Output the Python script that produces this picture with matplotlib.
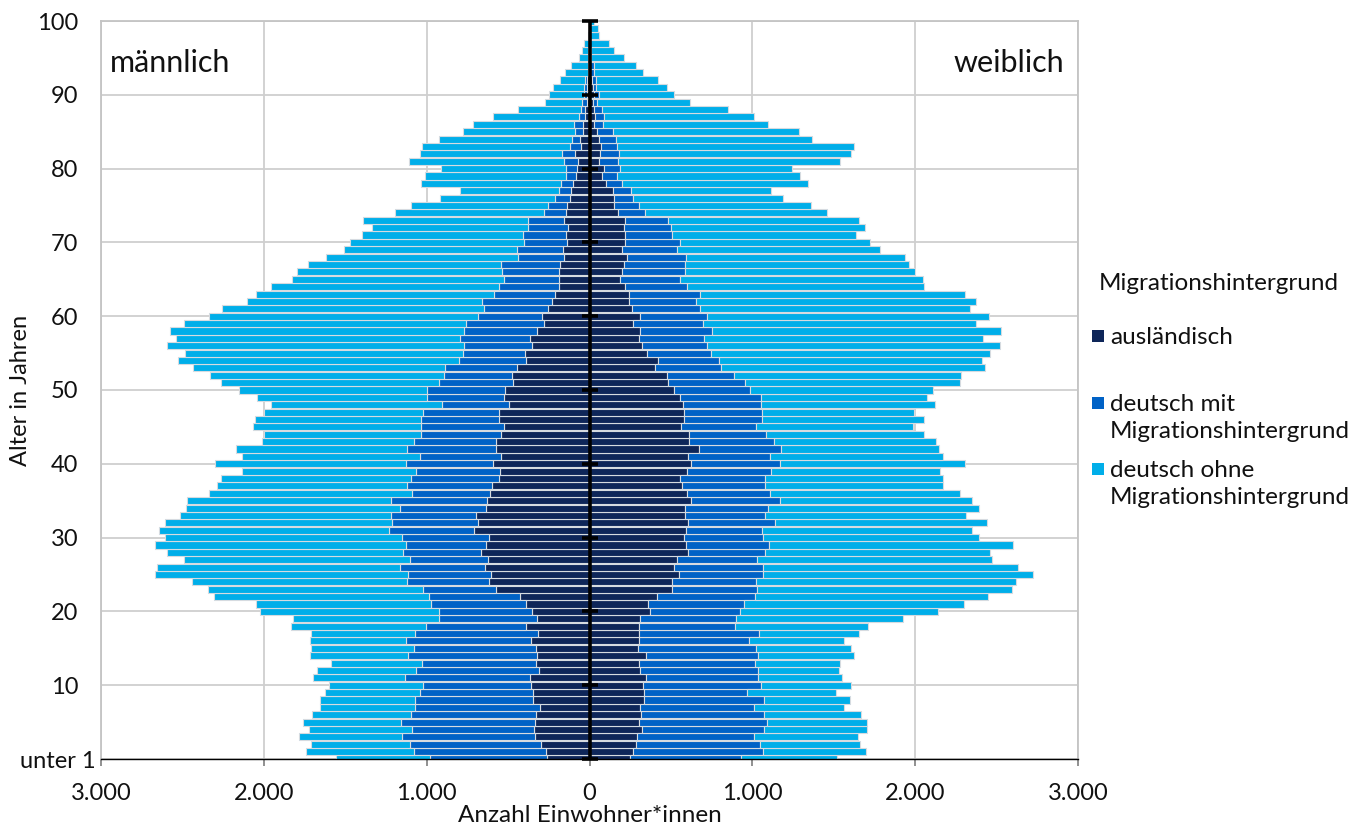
import numpy as np
import matplotlib
matplotlib.use("Agg")
import matplotlib.pyplot as plt
from matplotlib.patches import Rectangle
from matplotlib.ticker import FuncFormatter, FixedLocator
from matplotlib.transforms import ScaledTranslation

plt.rcParams['font.family'] = ['Lato', 'DejaVu Sans']

ages = list(range(0, 101))

# Männlich (ages 0..100)
m_auslaendisch = [264, 268, 299, 335, 342, 335, 329, 307, 348, 344,
                  362, 368, 311, 327, 323, 327, 360, 317, 389, 325,
                  352, 393, 427, 575, 618, 605, 644, 626, 667, 636,
                  618, 708, 683, 695, 636, 628, 611, 601, 556, 552,
                  595, 546, 575, 575, 546, 528, 556, 554, 493, 526,
                  519, 472, 476, 444, 389, 395, 354, 366, 323, 280,
                  292, 256, 229, 209, 188, 186, 188, 180, 157, 162,
                  137, 145, 131, 157, 143, 137, 119, 112, 102, 84,
                  78, 72, 88, 51, 59, 37, 37, 29, 25, 18,
                  16, 18, 18, 6, 4, 4, 3, 3, 2, 2, 2]
m_deutsch_mit = [714, 812, 805, 818, 748, 822, 767, 765, 722, 699,
                 660, 767, 754, 702, 792, 753, 769, 755, 617, 600,
                 573, 581, 561, 450, 503, 512, 520, 476, 478, 493,
                 531, 523, 530, 522, 530, 591, 481, 520, 540, 513,
                 530, 497, 544, 503, 491, 505, 479, 468, 415, 470,
                 479, 452, 418, 446, 415, 382, 419, 429, 448, 479,
                 395, 394, 431, 376, 368, 340, 350, 366, 283, 282,
                 264, 266, 245, 221, 135, 118, 92, 74, 76, 61,
                 69, 85, 80, 68, 49, 49, 59, 38, 30, 29,
                 15, 13, 9, 6, 6, 4, 4, 3, 2, 1, 1]
m_deutsch_ohne = [578, 658, 606, 628, 630, 602, 607, 582, 584, 583,
                  575, 560, 606, 556, 603, 630, 585, 636, 826, 893,
                  1100, 1077, 1321, 1317, 1319, 1554, 1490, 1389, 1452, 1542,
                  1456, 1415, 1396, 1300, 1315, 1253, 1243, 1169, 1166, 1072,
                  1176, 1090, 1055, 932, 959, 1034, 1022, 974, 1047, 1045,
                  1153, 1340, 1437, 1548, 1726, 1710, 1824, 1743, 1806, 1734,
                  1652, 1604, 1442, 1462, 1397, 1298, 1258, 1180, 1176, 1063,
                  1067, 984, 957, 1011, 916, 839, 707, 607, 859, 863,
                  763, 951, 873, 912, 816, 689, 618, 524, 383, 229,
                  216, 192, 155, 137, 102, 57, 40, 25, 6, 3, 2]

# Weiblich (ages 0..100)
w_auslaendisch = [249, 270, 286, 290, 323, 301, 319, 311, 333, 333,
                  327, 350, 311, 305, 348, 297, 301, 303, 303, 309,
                  374, 358, 415, 507, 507, 550, 521, 538, 605, 595,
                  579, 591, 605, 585, 585, 626, 599, 566, 554, 599,
                  622, 605, 671, 609, 609, 560, 579, 583, 573, 558,
                  517, 481, 476, 401, 419, 354, 321, 303, 313, 270,
                  309, 260, 243, 243, 217, 186, 198, 210, 231, 198,
                  219, 219, 210, 217, 174, 151, 151, 145, 100, 78,
                  86, 59, 67, 72, 59, 47, 27, 31, 27, 20,
                  25, 20, 14, 5, 5, 4, 3, 3, 2, 2, 2]
w_deutsch_mit = [679, 797, 763, 720, 747, 791, 753, 701, 739, 636,
                 724, 685, 722, 711, 689, 723, 681, 736, 591, 591,
                 548, 591, 599, 524, 513, 513, 542, 491, 471, 505,
                 488, 466, 536, 493, 511, 542, 507, 510, 524, 513,
                 548, 503, 503, 526, 473, 464, 478, 476, 482, 493,
                 466, 474, 414, 407, 379, 394, 399, 403, 440, 427,
                 413, 417, 413, 434, 382, 372, 391, 375, 362, 340,
                 337, 288, 291, 264, 165, 151, 115, 111, 98, 92,
                 100, 115, 113, 94, 101, 96, 53, 61, 49, 27,
                 32, 17, 23, 22, 20, 6, 5, 3, 3, 2, 2]
w_deutsch_ohne = [593, 632, 614, 640, 636, 612, 597, 552, 525, 544,
                  556, 515, 497, 524, 589, 587, 582, 619, 818, 1028,
                  1217, 1352, 1434, 1562, 1600, 1661, 1571, 1443, 1386, 1503,
                  1326, 1293, 1301, 1237, 1293, 1182, 1170, 1098, 1094, 1043,
                  1133, 1064, 971, 992, 973, 962, 1000, 933, 1064, 1023,
                  1127, 1323, 1394, 1623, 1615, 1712, 1799, 1711, 1775, 1677,
                  1730, 1662, 1716, 1626, 1458, 1491, 1411, 1380, 1346, 1249,
                  1164, 1127, 1188, 1171, 1117, 1060, 920, 861, 1141, 1122,
                  1059, 1362, 1427, 1460, 1204, 1145, 1014, 916, 773, 571,
                  464, 439, 384, 300, 261, 201, 141, 113, 56, 47, 26]

series_labels = ["ausländisch", "deutsch mit\nMigrationshintergrund",
                 "deutsch ohne\nMigrationshintergrund"]
colors = ["#0e2659", "#0062c6", "#00aee9"]
ytick_vals = [0, 10, 20, 30, 40, 50, 60, 70, 80, 90, 100]
ytick_labels = ["unter 1", "10", "20", "30", "40", "50", "60", "70", "80", "90", "100"]
xtick_vals = [-3000, -2000, -1000, 0, 1000, 2000, 3000]

W, H = 1372, 825
fig = plt.figure(figsize=(W / 100, H / 100), dpi=100)
ax = fig.add_axes([101 / W, 1 - 759 / H, (1078 - 101) / W, (759 - 21) / H])

y = np.array(ages)
edge = "#d6dbe0"
bh = 0.96
lw = 0.8

m1 = np.array(m_auslaendisch); m2 = np.array(m_deutsch_mit); m3 = np.array(m_deutsch_ohne)
w1 = np.array(w_auslaendisch); w2 = np.array(w_deutsch_mit); w3 = np.array(w_deutsch_ohne)

ax.barh(y, -m1, height=bh, color=colors[0], edgecolor=edge, linewidth=lw, zorder=2)
ax.barh(y, -m2, left=-m1, height=bh, color=colors[1], edgecolor=edge, linewidth=lw, zorder=2)
ax.barh(y, -m3, left=-(m1 + m2), height=bh, color=colors[2], edgecolor=edge, linewidth=lw, zorder=2)
ax.barh(y, w1, height=bh, color=colors[0], edgecolor=edge, linewidth=lw, zorder=2)
ax.barh(y, w2, left=w1, height=bh, color=colors[1], edgecolor=edge, linewidth=lw, zorder=2)
ax.barh(y, w3, left=w1 + w2, height=bh, color=colors[2], edgecolor=edge, linewidth=lw, zorder=2)

# central axis with tick marks
ax.plot([0, 0], [0, 100], color="black", lw=2.6, zorder=5, solid_capstyle='butt', clip_on=False)
ax.plot([0] * len(ytick_vals), ytick_vals, linestyle='none', marker='_', markersize=11.5,
        markeredgewidth=2.6, color="black", zorder=6, clip_on=False)

ax.set_xlim(-3000, 3000)
ax.set_ylim(0, 100)
ax.set_axisbelow(True)
ax.xaxis.set_major_locator(FixedLocator(xtick_vals))
ax.yaxis.set_major_locator(FixedLocator(ytick_vals))
ax.xaxis.set_major_formatter(FuncFormatter(lambda v, p: f"{int(abs(v)):,}".replace(",", ".")))
ax.set_yticklabels(ytick_labels)
ax.grid(True, color="#cfcfcf", linewidth=1.3, zorder=0)

for s in ["top", "left", "right"]:
    ax.spines[s].set_color("#c4c4c4")
    ax.spines[s].set_linewidth(1.3)
ax.spines["bottom"].set_color("black")
ax.spines["bottom"].set_linewidth(1.0)

ax.tick_params(axis='x', length=5, width=1.3, color="#888888", pad=12, labelsize=17, labelcolor="#111111")
ax.tick_params(axis='y', length=0, pad=16.5, labelsize=17, labelcolor="#111111")
lbl0 = ax.get_yticklabels()[0]
lbl0.set_transform(lbl0.get_transform() + ScaledTranslation(18 / 100, 0, fig.dpi_scale_trans))

ax.set_xlabel("Anzahl Einwohner*innen", fontsize=17.5, color="#111111", labelpad=1)
ax.set_ylabel("Alter in Jahren", fontsize=17, color="#111111")
ax.yaxis.set_label_coords((31 - 101) / (1078 - 101), 0.5)

ax.text(110 / W, 1 - 63 / H, "männlich", transform=fig.transFigure, fontsize=22,
        ha="left", va="center", color="#111111")
ax.text(1064 / W, 1 - 63 / H, "weiblich", transform=fig.transFigure, fontsize=22,
        ha="right", va="center", color="#111111")

# legend (manual)
fig.text(1099 / W, 1 - 283 / H, "Migrationshintergrund", fontsize=17.5, ha="left", va="center", color="#111111")
entry_y = [336, 403, 469]
for lab, col, ey in zip(series_labels, colors, entry_y):
    fig.patches.append(Rectangle((1092 / W, 1 - (ey + 6) / H), 12 / W, 12 / H,
                                 transform=fig.transFigure, facecolor=col, edgecolor="none"))
    fig.text(1110 / W, 1 - (ey - 9) / H, lab, fontsize=17.5, ha="left", va="top",
             color="#111111", linespacing=1.36)

fig.savefig("out.png", dpi=100)
